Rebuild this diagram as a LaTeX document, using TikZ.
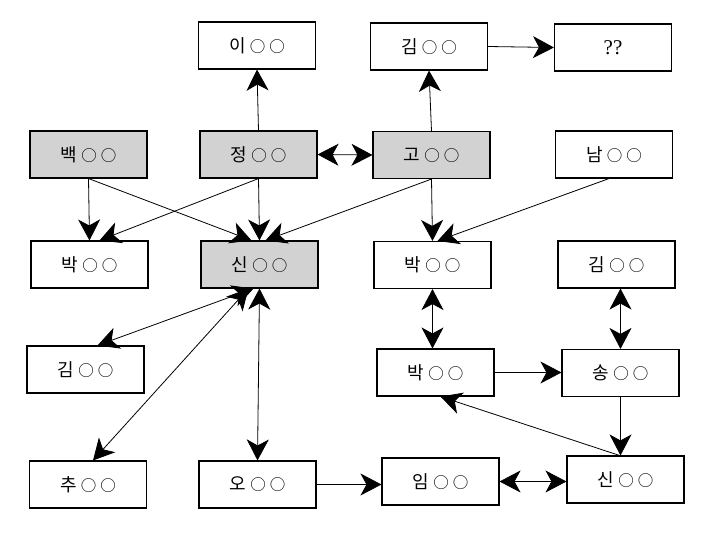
\documentclass[tikz,border=0pt]{standalone}
\usepackage{fontspec}
\newfontfamily\kr{Noto Sans CJK KR}
\newfontfamily\qfont{Liberation Serif}
\newcommand{\oo}{\hspace{4pt}{\fontsize{15.5}{16}\selectfont ○\hspace{4pt}○}}
\usetikzlibrary{arrows.meta}
\tikzset{>={Stealth[length=21pt,width=22pt,inset=6pt]}}
\tikzset{box/.style={draw,line width=1.1pt,minimum width=117pt,minimum height=47pt,inner sep=0pt,font=\kr\fontsize{18}{20}\selectfont},
  hl/.style={box,fill=gray!35},
  link/.style={line width=0.8pt}}

\begin{document}
\begin{tikzpicture}[x=1pt,y=-1pt]
\useasboundingbox (0,0) rectangle (721,535);

\node[box] (yi) at (257,45.5) {이\oo};
\node[box] (kimA) at (429,46.5) {김\oo};
\node[box] (qq) at (613,47.5) {\qfont\fontsize{21}{22}\selectfont ??};

\node[hl] (baek) at (88.5,154.5) {백\oo};
\node[hl] (jeong) at (258.5,154.5) {정\oo};
\node[hl] (go) at (431.5,155) {고\oo};
\node[box] (nam) at (614,154.5) {남\oo};

\node[box] (parkA) at (89.5,264.5) {박\oo};
\node[hl] (shinA) at (259.5,264.5) {신\oo};
\node[box] (parkB) at (432.5,265) {박\oo};
\node[box] (kimB) at (616.5,264.5) {김\oo};

\node[box] (kimC) at (85.5,369.5) {김\oo};
\node[box] (parkC) at (435.5,372.5) {박\oo};
\node[box] (song) at (620.5,373) {송\oo};

\node[box] (chu) at (88,484.5) {추\oo};
\node[box] (oh) at (257.5,484.5) {오\oo};
\node[box] (im) at (440.5,481.5) {임\oo};
\node[box] (shinB) at (625.5,479.5) {신\oo};

\draw[link,->] (jeong.north) -- (yi.south);
\draw[link,<->] (jeong.east) -- (go.west);
\draw[link,->] (go.north) -- (kimA.south);
\draw[link,->] (kimA.east) -- (qq.west);

\draw[link,->] (baek.south) -- (parkA.north);
\draw[link,->] (baek.south) -- ([xshift=-8pt]shinA.north);
\draw[link,->] (jeong.south) -- ([xshift=10pt]parkA.north);
\draw[link,->] (jeong.south) -- (shinA.north);
\draw[link,->] (go.south) -- ([xshift=6pt]shinA.north);
\draw[link,->] (go.south) -- (parkB.north);
\draw[link,->] ([xshift=-5pt]nam.south) -- ([xshift=5pt]parkB.north);

\draw[link,<->] ([xshift=-6pt]shinA.south) -- ([xshift=12pt]kimC.north);
\draw[link,<->] ([xshift=-11pt]shinA.south) -- ([xshift=5pt]chu.north);
\draw[link,<->] (shinA.south) -- (oh.north);
\draw[link,->] (oh.east) -- (oh.east -| im.west);
\draw[link,<->] (im.east) -- (im.east -| shinB.west);

\draw[link,<->] (parkB.south) -- (parkB.south |- parkC.north);
\draw[link,<->] (song.north |- kimB.south) -- (song.north);
\draw[link,->] (parkC.east) -- (parkC.east -| song.west);
\draw[link,->] (song.south) -- (song.south |- shinB.north);
\draw[link,->] ([xshift=-6pt]shinB.north) -- ([xshift=5pt]parkC.south);
\end{tikzpicture}
\end{document}
